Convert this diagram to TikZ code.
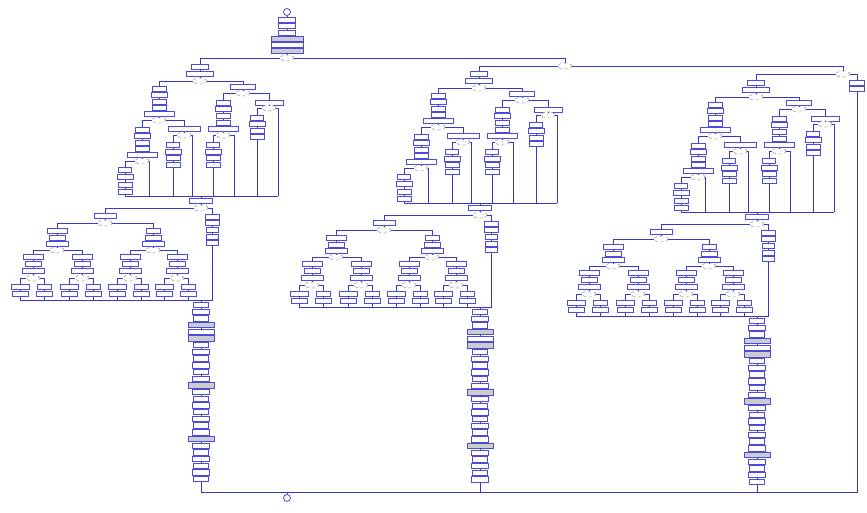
\documentclass[tikz,border=0pt]{standalone}
\usepackage{tikz}
\usetikzlibrary{shapes.geometric}
\definecolor{flowc}{RGB}{55,55,200}
\definecolor{boxc}{RGB}{75,75,220}

% one symbol: width 0 = decision, negative = shaded box
\newcommand{\flownode}[4]{%
  \pgfmathsetmacro\wa{abs(#4)}%
  \ifdim#4pt=0pt \node[dec] (#1) at (#2,#3) {};%
  \else\ifdim#4pt<0pt \node[box,fill=gray!40,minimum width=\wa pt] (#1) at (#2,#3) {};%
  \else \node[box,minimum width=\wa pt] (#1) at (#2,#3) {};\fi\fi}

% stack of symbols, joined top to bottom
\newcommand{\chain}[3]{%
  \foreach \yy/\ww [count=\i] in {#3}{%
    \flownode{#1\i}{#2}{\yy}{\ww}%
    \ifnum\i>1 \pgfmathtruncatemacro\prv{\i-1}\draw[flow] (#1\prv) -- (#1\i);\fi
  }}

% third level case and its two leaves
\newcommand{\leafpair}[5]{%
  \chain{#1#2}{#3}{257/20,264/16,271/22,278/0}
  \chain{#1#2l}{#4}{287/18,294/16}
  \chain{#1#2r}{#5}{287/14,294/16}
  \draw[flow] (#1#24) -| (#1#2l1);
  \draw[flow] (#1#24) -| (#1#2r1);
  \draw[flow] (#1#2l2) -- (#1#2l2 |- #1K);
  \draw[flow] (#1#2r2) -- (#1#2r2 |- #1K);}

% one whole branch of the main switch
\newcommand{\flowpart}[4]{%
\begin{scope}[shift={(#2,#3)}]
  % upper case tree
  \chain{#1r}{200}{67/17,74/27,81/0}
  \chain{#1L}{159}{89/14,95/16,102/14,108/14,114/30,120/0}
  \chain{#1LL}{142}{130/14,136/16,143/14,149/14,155/30,161/0}
  \chain{#1LLL}{125}{170/13,177/16,185/14,192/14}
  \chain{#1LR}{184}{129/32,135/0}
  \chain{#1LRL}{173}{145/13,152/16,158/14,165/14}
  \chain{#1R}{243}{87/25,93/0}
  \chain{#1RL}{223}{103/14,109/16,116/14,123/14,129/30,135/0}
  \chain{#1RLL}{213}{145/13,152/16,158/14,165/14}
  \chain{#1RR}{269}{103/28,108/0}
  \chain{#1RRL}{257}{118/13,124/16,131/14,137/14}
  \chain{#1m}{201}{201/23,208/0}
  \coordinate (#1J) at (201,196);
  \coordinate (#1e1) at (149,196);
  \coordinate (#1e2) at (192,196);
  \coordinate (#1e3) at (234,196);
  \coordinate (#1e4) at (278,196);
  \draw[flow] (#1r3) -| (#1L1);
  \draw[flow] (#1r3) -| (#1R1);
  \draw[flow] (#1L6) -| (#1LL1);
  \draw[flow] (#1L6) -| (#1LR1);
  \draw[flow] (#1LL6) -| (#1LLL1);
  \draw[flow] (#1LL6) -| (#1e1);
  \draw[flow] (#1LR2) -| (#1LRL1);
  \draw[flow] (#1LR2) -| (#1e2);
  \draw[flow] (#1R2) -| (#1RL1);
  \draw[flow] (#1R2) -| (#1RR1);
  \draw[flow] (#1RL6) -| (#1RLL1);
  \draw[flow] (#1RL6) -| (#1e3);
  \draw[flow] (#1RR2) -| (#1RRL1);
  \draw[flow] (#1RR2) -| (#1e4);
  \draw[flow] (#1LLL4) -- (#1LLL4 |- #1J) -- (#1e4);
  \draw[flow] (#1LRL4) -- (#1LRL4 |- #1J);
  \draw[flow] (#1RLL4) -- (#1RLL4 |- #1J);
  \draw[flow] (#1RRL4) -- (#1RRL4 |- #1J);
  \draw[flow] (#1J) -- (#1m1);
  % lower case tree
  \chain{#1Q}{105}{216/22,223/0}
  \chain{#1S}{212}{217/14,223/14,230/12,237/12,243/12}
  \chain{#1A}{57}{231/20,238/16,244/22,250/0}
  \chain{#1B}{153}{231/14,238/16,244/22,250/0}
  \coordinate (#1K) at (201,300);
  \leafpair{#1}{Aa}{33}{20}{44}
  \leafpair{#1}{Ab}{82}{69}{93}
  \leafpair{#1}{Ba}{130}{117}{141}
  \leafpair{#1}{Bb}{177}{164}{188}
  \draw[flow] (#1m2) -| (#1Q1);
  \draw[flow] (#1m2) -| (#1S1);
  \draw[flow] (#1Q2) -| (#1A1);
  \draw[flow] (#1Q2) -| (#1B1);
  \draw[flow] (#1A4) -| (#1Aa1);
  \draw[flow] (#1A4) -| (#1Ab1);
  \draw[flow] (#1B4) -| (#1Ba1);
  \draw[flow] (#1B4) -| (#1Bb1);
  \draw[flow] (#1S5) -- (#1S5 |- #1K) -- (#1Aal2 |- #1K);
  % long sequence
  \foreach \i in {1,...,#4}{%
    \pgfmathsetmacro\yy{305+(\i-1)*6.7}%
    \pgfmathtruncatemacro\ww{(\i==4||\i==6||\i==13||\i==21) ? -26 : ((\i==5) ? 26 : (mod(\i,2)==0 ? 17 : 15))}%
    \flownode{#1c\i}{201}{\yy}{\ww}%
    \ifnum\i>1 \pgfmathtruncatemacro\prv{\i-1}\draw[flow] (#1c\prv) -- (#1c\i);\fi
  }
  \draw[flow] (#1K) -- (#1c1);
\end{scope}}

\begin{document}
\begin{tikzpicture}[
x=1pt, y=-1pt,
box/.style={draw=boxc, fill=white, line width=0.9pt, minimum height=5.4pt, inner sep=0pt},
dec/.style={draw=gray!80, dashed, ellipse, fill=white, line width=0.6pt, minimum width=14pt, minimum height=6pt, inner sep=0pt},
term/.style={draw=boxc, circle, fill=white, line width=0.8pt, minimum size=7pt, inner sep=0pt},
flow/.style={draw=flowc, line width=0.8pt}
]
\useasboundingbox (0,0) rectangle (867,513);

% entry and main switch
\node[term] (start) at (287,12) {};
\chain{t}{287}{20/17,26/17,33/17,39/-32,45/32,51/-32,58/0}
\draw[flow] (start) -- (t1);
\node[dec] (sw1) at (565,66) {};
\node[dec] (sw2) at (843,74) {};
\chain{x}{857}{83/15,89/15}

\flowpart{a}{0}{0}{27}
\flowpart{b}{279}{7}{26}
\flowpart{c}{556}{16}{25}

\draw[flow] (t7) -| (ar1);
\draw[flow] (t7) -| (sw1);
\draw[flow] (sw1) -| (br1);
\draw[flow] (sw1) -| (sw2);
\draw[flow] (sw2) -| (cr1);
\draw[flow] (sw2) -| (x1);

% exit
\coordinate (ej) at (287,492);
\node[term] (stop) at (287,498) {};
\draw[flow] (ac27) |- (ej);
\draw[flow] (bc26) |- (ej);
\draw[flow] (cc25) |- (ej);
\draw[flow] (x2) |- (ej);
\draw[flow] (ej) -- (stop);
\end{tikzpicture}
\end{document}
